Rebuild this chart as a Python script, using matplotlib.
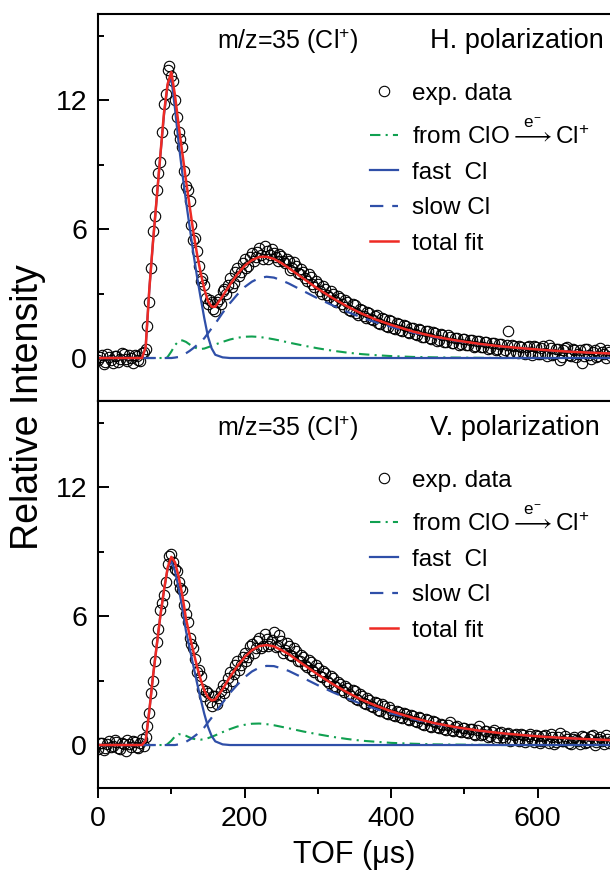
import matplotlib
matplotlib.use("Agg")
import matplotlib.pyplot as plt
from matplotlib.ticker import MultipleLocator

plt.rcParams["font.family"] = ["Liberation Sans", "DejaVu Sans"]
plt.rcParams["mathtext.fontset"] = "custom"
plt.rcParams["mathtext.rm"] = "Liberation Sans"
plt.rcParams["mathtext.it"] = "Liberation Sans"

# TOF grid of the fitted curves (us)
tfit = [0, 60, 65, 70, 75, 80, 85, 90, 95, 100,
        105, 110, 115, 120, 125, 130, 135, 140, 145, 150,
        155, 160, 170, 180, 190, 200, 210, 220, 230, 240,
        250, 260, 280, 300, 320, 340, 360, 380, 400, 430,
        460, 490, 520, 550, 580, 610, 640, 670, 700]

# H. polarization fit components
h_fast = [0, 0, 0.5, 3.2, 5.4, 7.4, 9.4, 11.3, 12.7, 13.0,
          11.6, 10.0, 8.6, 7.3, 6.1, 4.9, 3.8, 2.8, 1.85, 1.0,
          0.45, 0.15, 0.03, 0, 0, 0, 0, 0, 0, 0,
          0, 0, 0, 0, 0, 0, 0, 0, 0, 0,
          0, 0, 0, 0, 0, 0, 0, 0, 0]
h_slow = [0, 0, 0, 0, 0, 0, 0, 0, 0, 0,
          0.02, 0.05, 0.12, 0.22, 0.33, 0.46, 0.6, 0.75, 0.92, 1.15,
          1.38, 1.6, 2.1, 2.55, 2.95, 3.3, 3.55, 3.72, 3.78, 3.74,
          3.62, 3.47, 3.12, 2.77, 2.45, 2.15, 1.88, 1.65, 1.45, 1.18,
          0.96, 0.79, 0.65, 0.54, 0.45, 0.37, 0.3, 0.25, 0.21]
h_clo = [0, 0, 0, 0, 0, 0, 0, 0, 0.05, 0.3,
         0.6, 0.78, 0.82, 0.75, 0.63, 0.52, 0.45, 0.42, 0.44, 0.5,
         0.56, 0.63, 0.75, 0.86, 0.94, 0.99, 1.0, 0.98, 0.93, 0.87,
         0.8, 0.72, 0.58, 0.45, 0.34, 0.25, 0.18, 0.13, 0.09, 0.05,
         0.03, 0.02, 0.01, 0, 0, 0, 0, 0, 0]
h_total = [0, 0, 0.5, 3.2, 5.4, 7.4, 9.42, 11.4, 12.75, 13.3,
           12.22, 10.83, 9.54, 8.27, 7.06, 5.88, 4.85, 3.97, 3.21, 2.65,
           2.39, 2.38, 2.88, 3.41, 3.89, 4.29, 4.55, 4.7, 4.71, 4.61,
           4.42, 4.19, 3.7, 3.22, 2.79, 2.4, 2.06, 1.78, 1.54, 1.23,
           0.99, 0.81, 0.66, 0.54, 0.45, 0.37, 0.3, 0.25, 0.21]

# V. polarization fit components
v_fast = [0, 0, 0.2, 1.6, 3.2, 4.6, 6.0, 7.2, 8.2, 8.55,
          8.1, 7.3, 6.4, 5.3, 4.5, 3.7, 2.9, 2.15, 1.45, 0.85,
          0.42, 0.17, 0.03, 0, 0, 0, 0, 0, 0, 0,
          0, 0, 0, 0, 0, 0, 0, 0, 0, 0,
          0, 0, 0, 0, 0, 0, 0, 0, 0]
v_slow = [0, 0, 0, 0, 0, 0, 0, 0, 0, 0,
          0, 0.03, 0.08, 0.15, 0.25, 0.37, 0.5, 0.65, 0.82, 1.05,
          1.27, 1.5, 1.97, 2.42, 2.8, 3.15, 3.42, 3.6, 3.68, 3.67,
          3.57, 3.45, 3.12, 2.78, 2.46, 2.17, 1.9, 1.67, 1.47, 1.2,
          0.98, 0.8, 0.66, 0.55, 0.46, 0.38, 0.32, 0.27, 0.23]
v_clo = [0, 0, 0, 0, 0, 0, 0, 0, 0.05, 0.2,
         0.4, 0.5, 0.5, 0.43, 0.35, 0.29, 0.26, 0.25, 0.27, 0.32,
         0.38, 0.45, 0.6, 0.74, 0.86, 0.94, 0.99, 1.0, 0.97, 0.92,
         0.85, 0.78, 0.63, 0.5, 0.38, 0.28, 0.2, 0.15, 0.1, 0.06,
         0.03, 0.02, 0.01, 0, 0, 0, 0, 0, 0]
v_total = [0, 0, 0.2, 1.6, 3.2, 4.6, 6.0, 7.2, 8.25, 8.75,
           8.5, 7.83, 6.98, 5.88, 5.1, 4.36, 3.66, 3.05, 2.54, 2.22,
           2.07, 2.12, 2.6, 3.16, 3.66, 4.09, 4.41, 4.6, 4.65, 4.59,
           4.42, 4.23, 3.75, 3.28, 2.84, 2.45, 2.1, 1.82, 1.57, 1.26,
           1.01, 0.82, 0.67, 0.55, 0.46, 0.38, 0.32, 0.27, 0.23]

# measured points: every 5 us from 0 to 700, plus the points in between
tdata = list(range(0, 705, 5))
tdata_mid = [t + 2.5 for t in range(0, 700, 5)]
h_data = [-0.1, 0.15, -0.2, 0.05, -0.25, 0.1, -0.05, 0.2, -0.15, 0.0,
          0.15, -0.1, 0.25, 0.4, 2.6, 5.9, 7.8, 9.1, 11.8, 13.4,
          13.1, 12.0, 10.5, 9.8, 8.0, 7.3, 5.5, 5.0, 3.6, 3.4,
          2.5, 2.6, 2.2, 2.75, 3.1, 3.0, 3.7, 3.5, 4.2, 4.0,
          4.6, 4.3, 4.9, 4.7, 5.1, 4.6, 5.0, 4.8, 4.9, 4.5,
          4.75, 4.4, 4.5, 4.2, 4.3, 3.9, 4.0, 3.6, 3.75, 3.3,
          3.45, 3.0, 3.2, 2.85, 3.0, 2.6, 2.8, 2.35, 2.6, 2.2,
          2.45, 2.0, 2.25, 1.85, 2.1, 1.75, 2.0, 1.6, 1.8, 1.45,
          1.7, 1.35, 1.6, 1.25, 1.5, 1.15, 1.4, 1.05, 1.3, 1.0,
          1.25, 0.9, 1.15, 0.85, 1.05, 0.75, 1.0, 0.7, 0.95, 0.65,
          0.9, 0.6, 0.85, 0.55, 0.8, 0.5, 0.75, 0.45, 0.7, 0.4,
          0.65, 0.35, 1.25, 0.6, 0.3, 0.55, 0.25, 0.5, 0.3, 0.55,
          0.2, 0.45, 0.25, 0.6, 0.15, 0.4, -0.1, 0.35, 0.5, 0.1,
          0.35, 0.2, -0.25, 0.4, 0.15, 0.3, 0.05, 0.45, 0.2, 0.35,
          0.1]
h_data_mid = [0.05, -0.3, 0.2, -0.1, 0.1, -0.2, 0.25, -0.05, 0.15, -0.25,
              0.1, -0.15, 0.3, 1.5, 4.2, 6.6, 8.6, 10.5, 12.3, 13.6,
              12.9, 11.2, 10.2, 8.7, 7.8, 6.2, 5.6, 4.3, 3.7, 2.8,
              2.7, 2.3, 2.6, 2.5, 3.2, 3.4, 3.3, 4.0, 3.8, 4.4,
              4.2, 4.7, 4.5, 4.95, 4.8, 5.2, 4.6, 5.05, 4.7, 4.85,
              4.5, 4.6, 4.1, 4.45, 3.95, 4.15, 3.7, 3.9, 3.45, 3.6,
              3.1, 3.35, 2.95, 3.1, 2.7, 2.9, 2.5, 2.7, 2.25, 2.5,
              2.1, 2.3, 1.95, 2.15, 1.8, 1.95, 1.65, 1.85, 1.5, 1.75,
              1.4, 1.65, 1.3, 1.55, 1.2, 1.4, 1.1, 1.35, 1.0, 1.25,
              0.95, 1.2, 0.8, 1.1, 0.75, 1.05, 0.7, 0.95, 0.6, 0.9,
              0.6, 0.85, 0.5, 0.8, 0.5, 0.75, 0.4, 0.7, 0.35, 0.65,
              0.3, 0.6, 0.3, 0.55, 0.25, 0.5, 0.2, 0.55, 0.15, 0.5,
              0.2, 0.55, 0.1, 0.45, 0.2, 0.4, 0.05, 0.45, 0.15, 0.4,
              0.05, 0.35, 0.1, 0.4, -0.05, 0.35, 0.1, 0.3, 0.0, 0.3]
v_data = [-0.2, 0.1, -0.15, 0.2, -0.05, 0.15, -0.2, 0.05, 0.25, -0.1,
          0.15, -0.15, 0.3, 0.35, 1.5, 3.0, 4.8, 6.3, 7.0, 8.4,
          8.9, 8.2, 7.6, 7.2, 6.1, 5.0, 4.5, 3.4, 3.2, 2.3,
          2.4, 1.8, 2.3, 2.2, 2.8, 2.7, 3.4, 3.3, 3.9, 3.7,
          4.3, 4.1, 4.7, 4.5, 5.0, 4.6, 4.95, 4.7, 5.25, 4.6,
          4.85, 4.4, 4.6, 4.15, 4.35, 3.9, 4.1, 3.65, 3.85, 3.4,
          3.6, 3.15, 3.35, 2.9, 3.1, 2.7, 2.85, 2.45, 2.65, 2.3,
          2.5, 2.1, 2.3, 1.9, 2.1, 1.75, 1.95, 1.6, 1.8, 1.45,
          1.65, 1.35, 1.55, 1.25, 1.45, 1.15, 1.35, 1.05, 1.25, 0.95,
          1.15, 0.85, 1.05, 0.8, 0.95, 0.7, 1.05, 0.65, 0.9, 0.6,
          0.8, 0.55, 0.75, 0.45, 0.9, 0.5, 0.65, 0.4, 0.7, 0.35,
          0.6, 0.3, 0.55, 0.25, 0.5, 0.2, 0.45, 0.25, 0.5, 0.15,
          0.4, 0.2, 0.45, 0.1, 0.35, 0.15, 0.55, 0.2, 0.3, 0.05,
          0.35, 0.2, 0.4, 0.1, 0.3, 0.45, 0.15, 0.35, 0.05, 0.3,
          0.2]
v_data_mid = [0.1, -0.25, 0.05, -0.1, 0.25, -0.15, 0.1, -0.3, 0.05, 0.2,
              -0.1, 0.1, -0.05, 0.9, 2.4, 3.9, 5.4, 6.6, 7.6, 8.8,
              8.5, 8.1, 7.3, 6.5, 5.7, 4.7, 4.0, 3.5, 2.6, 2.5,
              2.0, 2.3, 1.9, 2.5, 2.4, 3.1, 3.0, 3.7, 3.5, 4.1,
              3.9, 4.6, 4.3, 4.85, 4.5, 5.15, 4.6, 4.9, 4.55, 5.1,
              4.3, 4.75, 4.2, 4.5, 3.9, 4.2, 3.7, 3.95, 3.5, 3.7,
              3.2, 3.45, 3.0, 3.2, 2.75, 2.95, 2.55, 2.75, 2.35, 2.55,
              2.15, 2.35, 1.95, 2.2, 1.8, 2.0, 1.65, 1.9, 1.5, 1.75,
              1.4, 1.6, 1.3, 1.5, 1.2, 1.4, 1.1, 1.3, 1.0, 1.2,
              0.9, 1.1, 0.85, 1.0, 0.75, 0.95, 0.7, 0.85, 0.65, 0.8,
              0.6, 0.75, 0.5, 0.7, 0.45, 0.65, 0.35, 0.6, 0.3, 0.55,
              0.35, 0.5, 0.2, 0.45, 0.3, 0.5, 0.15, 0.4, 0.25, 0.45,
              0.1, 0.4, 0.25, 0.5, 0.05, 0.35, 0.2, 0.4, 0.1, 0.3,
              0.25, 0.05, 0.35, 0.15, 0.4, 0.0, 0.3, 0.2, 0.45, 0.1]

RED = "#ee2a24"
BLUE = "#2f4fa8"
GREEN = "#10a050"


def panel(ax, data, data_mid, clo, fast, slow, total, pol):
    ax.plot(tdata, data, "o", ms=7.5, mfc="none", mec="black", mew=0.8,
            label="exp. data")
    ax.plot(tdata_mid, data_mid, "o", ms=7.5, mfc="none", mec="black",
            mew=0.8, label="_nolegend_")
    ax.plot(tfit, clo, color=GREEN, lw=1.5, dashes=(5, 2.5, 1, 2.5),
            label=r"from ClO$\overset{e^{-}}{\longrightarrow}$Cl$^{+}$")
    ax.plot(tfit, fast, color=BLUE, lw=1.6, label="fast  Cl")
    ax.plot(tfit, slow, color=BLUE, lw=1.6, dashes=(6, 4), label="slow Cl")
    ax.plot(tfit, total, color=RED, lw=1.8, label="total fit")
    ax.set_xlim(0, 700)
    ax.set_ylim(-2, 16)
    ax.yaxis.set_major_locator(MultipleLocator(6))
    ax.yaxis.set_minor_locator(MultipleLocator(3))
    ax.xaxis.set_major_locator(MultipleLocator(200))
    ax.xaxis.set_minor_locator(MultipleLocator(100))
    ax.tick_params(axis="y", which="both", direction="in", right=False,
                   width=1.4, labelsize=20.5, pad=8)
    ax.tick_params(axis="y", which="major", length=8)
    ax.tick_params(axis="y", which="minor", length=4.5)
    ax.tick_params(axis="x", which="both", direction="out", top=False,
                   width=1.4, labelsize=20.5, pad=6)
    ax.tick_params(axis="x", which="major", length=7)
    ax.tick_params(axis="x", which="minor", length=4)
    for s in ax.spines.values():
        s.set_linewidth(1.5)
    ax.text(0.232, 0.93, "m/z=35 (Cl$^{+}$)", transform=ax.transAxes,
            fontsize=18, va="center")
    ax.text(0.647, 0.93, pol, transform=ax.transAxes, fontsize=19.5,
            va="center")
    ax.legend(loc="upper left", bbox_to_anchor=(0.53, 0.822), frameon=False,
              fontsize=17.5, handlelength=1.15, handletextpad=0.6,
              labelspacing=0.55, borderpad=0, borderaxespad=0)


fig = plt.figure(figsize=(6.1, 8.75), dpi=100)
ax1 = fig.add_axes([0.1607, 0.5417, 0.841, 0.4423])
ax2 = fig.add_axes([0.1607, 0.0994, 0.841, 0.4423])

panel(ax1, h_data, h_data_mid, h_clo, h_fast, h_slow, h_total, "H. polarization")
panel(ax2, v_data, v_data_mid, v_clo, v_fast, v_slow, v_total, "V. polarization")
ax1.tick_params(axis="x", labelbottom=False)

ax2.set_xlabel("TOF (μs)", fontsize=22, labelpad=6)
fig.text(0.046, 0.535, "Relative Intensity", rotation=90, fontsize=27,
         va="center", ha="center")

fig.savefig("out.png", dpi=100)
